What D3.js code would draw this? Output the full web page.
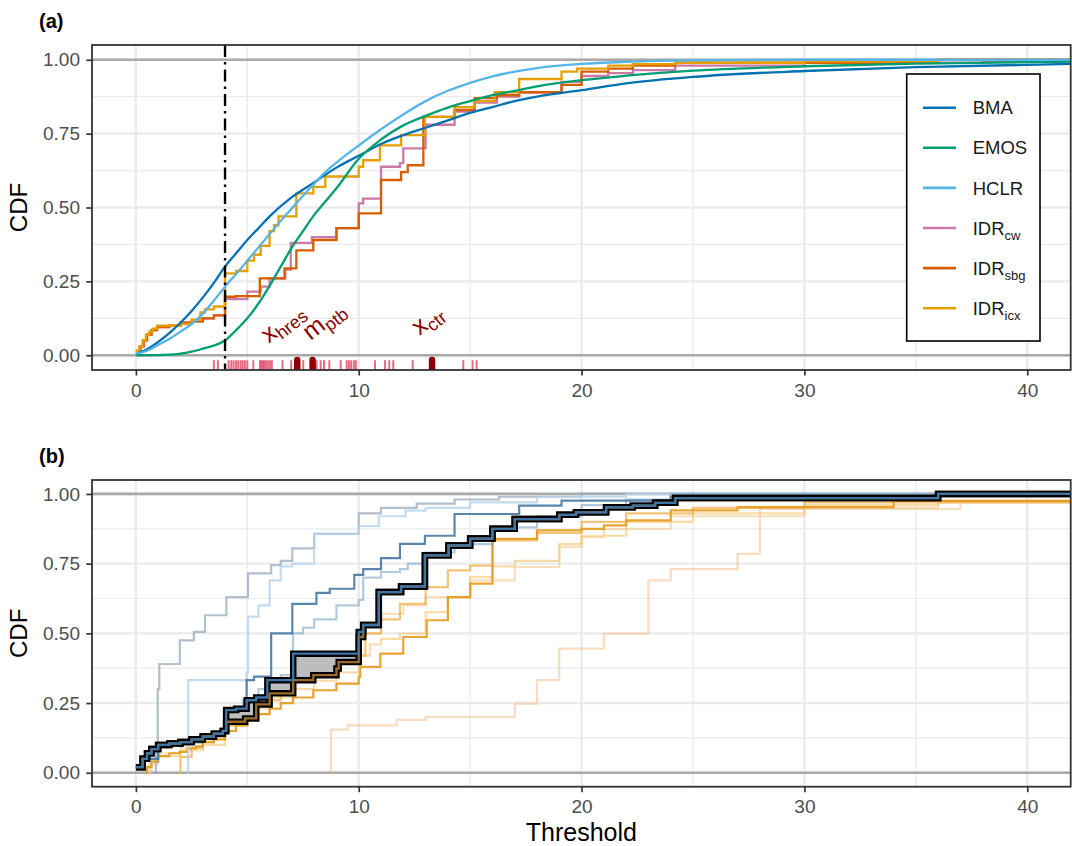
<!DOCTYPE html>
<html><head><meta charset="utf-8">
<script src="https://cdn.jsdelivr.net/npm/d3@7"></script>
<style>body{margin:0;background:#fff} text{font-family:"Liberation Sans",Arial,sans-serif}</style>
</head><body><svg id="c" width="1072" height="846"></svg>
<script>
// ---------- DATA ----------
const xTicks = [0,10,20,30,40];
const xMinor = [5,15,25,35];
const yTicks = [0,0.25,0.5,0.75,1];
const yMinor = [0.125,0.375,0.625,0.875];
const observation = 4.0;

// Panel (a) continuous CDFs [threshold, prob]
const bmaCurve = [[0,0.005],[0.5,0.02],[1,0.045],[1.5,0.075],[2,0.11],[2.5,0.15],[3,0.195],[3.5,0.245],[4,0.30],[4.5,0.345],[5,0.39],[5.5,0.43],[6,0.47],[7,0.535],[8,0.585],[9,0.635],[10,0.675],[11,0.715],[12,0.745],[13,0.77],[14,0.795],[15,0.82],[16,0.84],[17,0.86],[18,0.875],[20,0.897],[22,0.92],[25,0.942],[30,0.962],[35,0.975],[42.5,0.987]];
const emosCurve = [[0,0],[1,0.0005],[1.5,0.002],[2,0.005],[2.5,0.012],[3,0.022],[3.5,0.033],[4,0.05],[4.5,0.085],[5,0.125],[5.5,0.175],[6,0.235],[6.5,0.3],[7,0.365],[7.5,0.42],[8,0.475],[8.5,0.52],[9,0.565],[10,0.665],[11,0.73],[12,0.778],[13,0.81],[14,0.838],[15,0.86],[16,0.88],[17,0.895],[18,0.91],[20,0.931],[22,0.946],[25,0.963],[30,0.978],[35,0.987],[42.5,0.994]];
const hclrCurve = [[0,0.005],[0.5,0.015],[1,0.035],[1.5,0.055],[2,0.08],[2.5,0.105],[3,0.14],[3.5,0.185],[4,0.232],[4.5,0.275],[5,0.32],[5.5,0.365],[6,0.41],[6.5,0.455],[7,0.497],[7.5,0.54],[8,0.58],[8.5,0.62],[9,0.652],[10,0.71],[11,0.765],[12,0.815],[13,0.86],[14,0.895],[15,0.922],[16,0.944],[17,0.96],[18,0.972],[20,0.986],[22,0.993],[25,0.998],[30,1.0],[42.5,1.0]];

// Panel (a) IDR step CDFs [jump location, value after jump]
const idrCw = [[0,0.015],[0.2,0.03],[0.35,0.05],[0.5,0.07],[0.7,0.085],[0.95,0.095],[1.5,0.1],[2.0,0.11],[2.5,0.115],[3.0,0.125],[3.5,0.135],[4.0,0.19],[5.0,0.215],[5.6,0.232],[6.0,0.26],[6.7,0.29],[6.95,0.38],[7.9,0.4],[9.0,0.43],[10.0,0.514],[10.2,0.53],[11.0,0.638],[11.85,0.65],[12.0,0.70],[13.0,0.78],[14.3,0.825],[15.2,0.855],[16.2,0.875],[17.2,0.89],[19.1,0.925],[20.0,0.945],[21.2,0.955],[22.3,0.965],[24.2,0.98],[30,0.99],[38,0.995]];
const idrSbg = [[0,0.015],[0.2,0.03],[0.35,0.05],[0.5,0.07],[0.7,0.085],[0.95,0.095],[1.5,0.1],[2.0,0.11],[2.5,0.115],[3.0,0.125],[3.5,0.135],[4.0,0.198],[4.5,0.2],[5.56,0.26],[6.67,0.294],[7.2,0.355],[7.96,0.39],[9.0,0.43],[10.0,0.48],[11.0,0.593],[11.9,0.62],[12.2,0.643],[12.9,0.807],[14.3,0.83],[15.2,0.87],[16.2,0.88],[17.2,0.89],[19.1,0.915],[20.0,0.96],[21.2,0.97],[22.3,0.98],[24.2,0.99],[36.0,1.0]];
const idrIcx = [[0,0.015],[0.15,0.03],[0.3,0.05],[0.45,0.07],[0.6,0.08],[0.75,0.09],[0.95,0.1],[2.0,0.105],[2.5,0.12],[2.9,0.145],[3.1,0.155],[3.5,0.165],[4.0,0.277],[4.5,0.285],[5.0,0.32],[5.3,0.34],[5.6,0.37],[6.0,0.42],[6.2,0.44],[6.4,0.47],[7.2,0.548],[7.96,0.57],[8.5,0.605],[10.0,0.638],[10.2,0.66],[10.95,0.71],[11.9,0.745],[12.97,0.807],[14.3,0.84],[15.2,0.86],[16.1,0.89],[17.2,0.935],[19.1,0.96],[19.8,0.97],[21.2,0.98],[22.3,0.985],[24.2,0.99],[30,0.995],[36,1.0]];

// Rug of ensemble members and the three highlighted values
const rugValues = [3.5,3.68,4.16,4.28,4.38,4.49,4.59,4.7,4.79,4.89,5.0,5.27,5.57,5.63,5.69,5.75,5.83,5.92,6.01,6.1,6.58,6.97,7.51,8.11,8.29,8.44,8.68,9.19,9.46,9.56,9.66,9.78,9.87,10.73,11.18,11.37,11.55,12.42,14.69,15.11,15.29];
const markerValues = [7.24,7.93,13.29];
const markerLabels = [["x","hres"],["m","ptb"],["x","ctr"]];
const labelT = [6.8,8.65,13.3];
const labelP = [0.088,0.096,0.099];

// Legend
const seriesNames = [["BMA",""],["EMOS",""],["HCLR",""],["IDR","cw"],["IDR","sbg"],["IDR","icx"]];
const seriesColors = ["#0072B2","#009E73","#56B4E9","#CC79A7","#D55E00","#E69F00"];

// Panel (b) step CDFs
const blueGray = [[0.7,0],[0.9,0.1],[0.98,0.3],[1.05,0.39],[1.97,0.475],[2.6,0.505],[3.1,0.565],[4.06,0.63],[5.03,0.715],[6.07,0.745],[6.5,0.76],[7.02,0.805],[8.0,0.857],[10.0,0.93],[11.0,0.95],[12.6,0.965],[14.3,0.98],[16.3,0.99],[20,1.0]];
const blueLight = [[2.3,0],[2.35,0.332],[4.97,0.36],[5.03,0.56],[5.5,0.6],[6.0,0.69],[6.5,0.74],[7.02,0.75],[8.0,0.857],[10.0,0.885],[10.9,0.92],[12.1,0.94],[13,0.95],[15,0.97],[18,0.99],[22,1.0]];
const blueMid = [[0,0.02],[0.3,0.05],[1,0.1],[2,0.11],[3,0.13],[3.5,0.14],[4.0,0.22],[4.97,0.332],[5.3,0.345],[6.07,0.5],[7.02,0.606],[8.1,0.645],[8.7,0.66],[9.8,0.71],[10.2,0.73],[11.0,0.77],[11.85,0.821],[12.97,0.85],[14.3,0.928],[17.2,0.958],[19.1,0.976],[24,0.99],[36,1.0]];
const blueFaint = [[0,0.02],[0.3,0.05],[1,0.1],[2,0.11],[3,0.13],[4,0.2],[4.8,0.26],[5.5,0.3],[6.07,0.33],[6.5,0.35],[7.05,0.5],[7.5,0.52],[8.0,0.55],[9.0,0.6],[10.0,0.62],[10.2,0.7],[11.0,0.72],[11.85,0.73],[12.2,0.75],[13,0.79],[14.3,0.82],[16,0.88],[18,0.92],[20,0.96],[22,0.98],[24,1.0]];
const orangeStrong = [[0.45,0],[0.5,0.02],[0.7,0.04],[1.0,0.06],[1.5,0.07],[1.97,0.075],[2.3,0.087],[2.7,0.095],[3.0,0.11],[3.5,0.12],[4.0,0.15],[4.5,0.17],[5.0,0.19],[5.5,0.21],[6.0,0.23],[6.5,0.25],[7.05,0.27],[7.96,0.296],[9.0,0.32],[10.0,0.344],[10.07,0.38],[10.97,0.427],[12.0,0.487],[13.05,0.547],[14.0,0.63],[15.0,0.678],[16.0,0.839],[18.0,0.869],[20.0,0.875],[21.0,0.887],[22.0,0.905],[24.0,0.941],[27.0,0.953],[34.0,0.975]];
const orangeLight = [[1.97,0],[2.0,0.057],[2.5,0.09],[3.0,0.11],[3.5,0.13],[4.0,0.17],[4.5,0.19],[5.0,0.22],[5.5,0.24],[6.0,0.26],[6.5,0.28],[7.0,0.33],[7.96,0.37],[9.0,0.39],[10.0,0.42],[10.3,0.5],[11.0,0.55],[11.85,0.606],[13.0,0.666],[14.0,0.726],[15.0,0.743],[16.0,0.833],[18,0.86],[20,0.9],[22,0.93],[25,0.95],[30,0.97]];
const orangePale = [[0.6,0],[0.7,0.04],[1,0.06],[2,0.08],[3,0.1],[4,0.17],[5,0.21],[6,0.27],[7,0.3],[8,0.33],[9,0.36],[10,0.42],[10.5,0.46],[11,0.48],[11.85,0.499],[13.0,0.576],[14.0,0.63],[15.0,0.702],[16,0.74],[17,0.76],[19,0.82],[20,0.85],[22,0.9],[25,0.93],[30,0.96],[36,0.975]];
const orangeBeige = [[0.5,0],[0.6,0.03],[1,0.07],[2,0.09],[3,0.12],[4,0.19],[5,0.23],[6,0.3],[7,0.35],[8,0.42],[10,0.5],[11,0.57],[12,0.6],[13,0.63],[15,0.69],[17,0.738],[19,0.81],[20,0.845],[21,0.875],[24,0.92],[30,0.95],[36,0.97]];
const orangeLate = [[8.7,0],[8.75,0.155],[9.5,0.17],[11.7,0.19],[13.0,0.2],[17.0,0.248],[18.0,0.332],[19.0,0.445],[21.0,0.499],[23.0,0.69],[24.0,0.73],[27.0,0.785],[28.0,0.946],[37.0,0.974]];
const hiUpper = [[0,0.02],[0.3,0.05],[0.5,0.07],[0.7,0.085],[1.0,0.1],[1.5,0.105],[2.0,0.11],[2.5,0.12],[3.0,0.13],[3.5,0.14],[3.9,0.15],[4.05,0.225],[4.5,0.23],[4.97,0.26],[5.4,0.27],[5.9,0.332],[7.06,0.427],[10.0,0.505],[10.2,0.53],[10.9,0.648],[11.9,0.668],[12.97,0.78],[14.03,0.815],[15.0,0.84],[16.0,0.875],[17.0,0.91],[19.0,0.925],[19.75,0.934],[21.1,0.952],[22.3,0.958],[23.3,0.968],[24.2,0.985],[36.0,1.0]];
const hiLower = [[0,0.02],[0.3,0.05],[0.5,0.07],[0.7,0.085],[1.0,0.1],[1.5,0.105],[2.0,0.11],[2.5,0.12],[3.0,0.13],[3.5,0.14],[3.9,0.15],[4.05,0.183],[4.9,0.195],[5.4,0.245],[6.0,0.285],[7.06,0.332],[7.96,0.35],[9.0,0.374],[9.1,0.397],[10.0,0.487],[10.2,0.53],[10.9,0.648],[11.9,0.668],[12.97,0.78],[14.03,0.815],[15.0,0.84],[16.0,0.875],[17.0,0.91],[19.0,0.925],[19.75,0.934],[21.1,0.952],[22.3,0.958],[23.3,0.968],[24.2,0.985],[36.0,1.0]];

// ---------- DRAWING ----------
const svg = d3.select("#c");
const X0 = 92, X1 = 1070.7, TEND = 42.5;
const x = d3.scaleLinear().domain([-1.97, 41.95]).range([X0, X1]);
const yA = d3.scaleLinear().domain([-0.05, 1.05]).range([370, 45]);
const yB = d3.scaleLinear().domain([-0.05, 1.05]).range([786.7, 480]);

function stepPts(arr){
  const pts = [];
  arr.forEach((d,i)=>{
    pts.push([d[0], d[1]]);
    const nx = i < arr.length-1 ? arr[i+1][0] : TEND;
    pts.push([nx, d[1]]);
  });
  return pts;
}

function panel(y, clipId){
  const top = y.range()[1], bot = y.range()[0];
  const g = svg.append("g");
  g.append("rect").attr("x",X0).attr("y",top).attr("width",X1-X0).attr("height",bot-top).attr("fill","#fff");
  xMinor.forEach(v=>g.append("line").attr("x1",x(v)).attr("x2",x(v)).attr("y1",top).attr("y2",bot).attr("stroke","#ebebeb").attr("stroke-width",1.2));
  yMinor.forEach(v=>g.append("line").attr("x1",X0).attr("x2",X1).attr("y1",y(v)).attr("y2",y(v)).attr("stroke","#ebebeb").attr("stroke-width",1.2));
  xTicks.forEach(v=>g.append("line").attr("x1",x(v)).attr("x2",x(v)).attr("y1",top).attr("y2",bot).attr("stroke","#ebebeb").attr("stroke-width",2.4));
  yTicks.forEach(v=>g.append("line").attr("x1",X0).attr("x2",X1).attr("y1",y(v)).attr("y2",y(v)).attr("stroke","#ebebeb").attr("stroke-width",2.4));
  [0,1].forEach(v=>g.append("line").attr("x1",X0).attr("x2",X1).attr("y1",y(v)).attr("y2",y(v)).attr("stroke","#a9a9a9").attr("stroke-width",2.7));
  svg.append("clipPath").attr("id",clipId).append("rect").attr("x",X0).attr("y",top).attr("width",X1-X0).attr("height",bot-top);
  const data = svg.append("g").attr("clip-path",`url(#${clipId})`);
  return {g, data, top, bot};
}

function finishPanel(y, top, bot){
  svg.append("rect").attr("x",X0).attr("y",top).attr("width",X1-X0).attr("height",bot-top)
    .attr("fill","none").attr("stroke","#333333").attr("stroke-width",1.8);
  const ax = svg.append("g").attr("transform",`translate(0,${bot})`)
    .call(d3.axisBottom(x).tickValues(xTicks).tickSize(5.5).tickPadding(7.7).tickFormat(d3.format("d")));
  const ay = svg.append("g").attr("transform",`translate(${X0},0)`)
    .call(d3.axisLeft(y).tickValues(yTicks).tickSize(5.7).tickPadding(6.3).tickFormat(d3.format(".2f")));
  [ax,ay].forEach(a=>{
    a.select(".domain").remove();
    a.selectAll(".tick line").attr("stroke","#333333").attr("stroke-width",1.7);
    a.selectAll(".tick text").attr("fill","#4d4d4d").style("font-size","19px").style("font-family","'Liberation Sans',Arial,sans-serif");
  });
  svg.append("text").attr("transform",`translate(27,${(top+bot)/2}) rotate(-90)`)
    .attr("text-anchor","middle").style("font-size","24px").attr("fill","#000").text("CDF");
}

// ---- Panel (a) ----
const pa = panel(yA, "clipA");
const smooth = d3.line().x(d=>x(d[0])).y(d=>yA(d[1])).curve(d3.curveMonotoneX);
const lineA = d3.line().x(d=>x(d[0])).y(d=>yA(d[1]));
const contSeries = [[bmaCurve,0],[emosCurve,1],[hclrCurve,2]];
[[idrCw,3],[idrSbg,4],[idrIcx,5]].forEach(([arr,ci])=>{
  pa.data.append("path").attr("d",lineA(stepPts(arr))).attr("fill","none")
    .attr("stroke",seriesColors[ci]).attr("stroke-width",2.3);
});
contSeries.forEach(([arr,ci])=>{
  pa.data.append("path").attr("d",smooth(arr)).attr("fill","none")
    .attr("stroke",seriesColors[ci]).attr("stroke-width",2.3);
});
rugValues.forEach(v=>{
  pa.data.append("line").attr("x1",x(v)).attr("x2",x(v)).attr("y1",yA(-0.05)).attr("y2",yA(-0.017))
    .attr("stroke","#e0506f").attr("stroke-opacity",0.85).attr("stroke-width",2);
});
markerValues.forEach(v=>{
  pa.data.append("line").attr("x1",x(v)).attr("x2",x(v)).attr("y1",yA(-0.046)).attr("y2",yA(-0.016))
    .attr("stroke","#8B0000").attr("stroke-width",6.5).attr("stroke-linecap","round");
});
markerLabels.forEach((lab,i)=>{
  const t = pa.data.append("text")
    .attr("transform",`translate(${x(labelT[i])},${yA(labelP[i])}) rotate(-38)`)
    .attr("text-anchor","middle").attr("fill","#8B0000");
  t.append("tspan").style("font-size","25px").text(lab[0]);
  t.append("tspan").style("font-size","18px").attr("dy",5).text(lab[1]);
});
pa.data.append("line").attr("x1",x(observation)).attr("x2",x(observation)).attr("y1",yA(1.05)).attr("y2",yA(-0.05))
  .attr("stroke","#000").attr("stroke-width",2.4).attr("stroke-dasharray","12,5,2.5,5");
finishPanel(yA, pa.top, pa.bot);

// legend
const lg = svg.append("g");
lg.append("rect").attr("x",906.7).attr("y",74).attr("width",133.3).attr("height",267)
  .attr("fill","#fff").attr("stroke","#000").attr("stroke-width",1.6);
seriesNames.forEach((nm,i)=>{
  const ry = 107.7 + i*40.1;
  lg.append("line").attr("x1",923).attr("x2",956).attr("y1",ry).attr("y2",ry)
    .attr("stroke",seriesColors[i]).attr("stroke-width",2.6);
  const t = lg.append("text").attr("x",972.7).attr("y",ry+6.6).attr("fill","#1a1a1a").style("font-size","18.5px");
  t.append("tspan").text(nm[0]);
  if(nm[1]) t.append("tspan").style("font-size","13px").attr("dy",5).text(nm[1]);
});

// ---- Panel (b) ----
const pb = panel(yB, "clipB");
const lineB = d3.line().x(d=>x(d[0])).y(d=>yB(d[1]));
const bSeries = [
  [orangeLate,"#f2c08e",0.55],
  [orangeBeige,"#f4c98f",0.6],
  [orangePale,"#f3c56e",0.6],
  [orangeLight,"#eeb04a",0.75],
  [orangeStrong,"#e69a1a",0.9],
  [blueGray,"#9aaabb",0.75],
  [blueLight,"#b5d2ea",0.8],
  [blueFaint,"#7ea6c8",0.6],
  [blueMid,"#3f70a0",0.85]
];
bSeries.forEach(([arr,col,op])=>{
  pb.data.append("path").attr("d",lineB(stepPts(arr))).attr("fill","none")
    .attr("stroke",col).attr("stroke-opacity",op).attr("stroke-width",2.2);
});
const upPts = stepPts(hiUpper), loPts = stepPts(hiLower);
const poly = upPts.concat(loPts.slice().reverse());
pb.data.append("path").attr("d",lineB(poly)+"Z").attr("fill","#bdbdbd").attr("stroke","none");
[loPts,upPts].forEach(p=>{
  pb.data.append("path").attr("d",lineB(p)).attr("fill","none").attr("stroke","#000").attr("stroke-width",6.5);
});
pb.data.append("path").attr("d",lineB(loPts)).attr("fill","none").attr("stroke","#9a6a2a").attr("stroke-width",2.3);
pb.data.append("path").attr("d",lineB(upPts)).attr("fill","none").attr("stroke","#3f74a4").attr("stroke-width",2.3);
finishPanel(yB, pb.top, pb.bot);

// titles
svg.append("text").attr("x",581.4).attr("y",841).attr("text-anchor","middle").style("font-size","25px").attr("fill","#000").text("Threshold");
svg.append("text").attr("x",39).attr("y",28).style("font-size","20px").style("font-weight","bold").text("(a)");
svg.append("text").attr("x",39).attr("y",463).style("font-size","20px").style("font-weight","bold").text("(b)");
</script></body></html>
